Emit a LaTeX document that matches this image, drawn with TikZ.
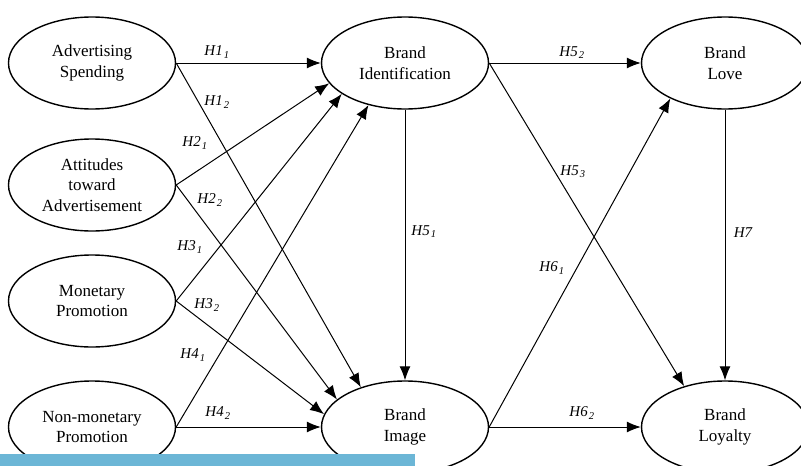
\documentclass[tikz,border=0pt]{standalone}
\usepackage{fontspec}
\setmainfont{Liberation Serif}
\usetikzlibrary{shapes,arrows.meta,positioning}
\definecolor{barblue}{RGB}{108,182,214}
\tikzstyle{construct}=[ellipse, draw=black, line width=1.4pt, minimum width=167pt, minimum height=92pt, inner sep=0pt, align=center, font=\fontsize{17}{20.5}\selectfont]
\tikzstyle{hyp}=[inner sep=1pt, font=\fontsize{15}{15}\selectfont\itshape]
\tikzstyle{link}=[-{Latex[length=14pt,width=11pt]}, line width=1pt]
\newcommand{\hlab}[2]{#1\kern1pt\textsubscript{#2}}

\begin{document}
\begin{tikzpicture}[x=1pt, y=-1pt]
        \useasboundingbox (0,0) rectangle (801,466);
        %
        \node at (92,63) [construct] (AS) {Advertising\\Spending};
        \node at (92,185) [construct] (AT) {Attitudes\\toward\\Advertisement};
        \node at (92,301) [construct] (MP) {Monetary\\Promotion};
        \node at (92,427) [construct] (NP) {Non-monetary\\Promotion};
        \node at (405,63) [construct] (BI) {Brand\\Identification};
        \node at (405,427) [construct] (BM) {Brand\\Image};
        \node at (725,63) [construct] (BL) {Brand\\Love};
        \node at (725,427) [construct] (BY) {Brand\\Loyalty};
        %
        \draw [link] (AS.east) -- (BI.west);
        \draw [link] (AS.east) -- (BM.138);
        \draw [link] (AT.east) -- (BI.195);
        \draw [link] (AT.east) -- (BM.158);
        \draw [link] (MP.east) -- (BI.206);
        \draw [link] (MP.east) -- (BM.171);
        \draw [link] (NP.east) -- (BI.229);
        \draw [link] (NP.east) -- (BM.west);
        \draw [link] (BI.south) -- (BM.north);
        \draw [link] (BI.east) -- (BL.west);
        \draw [link] (BI.east) -- (BY.135);
        \draw [link] (BM.east) -- (BL.213);
        \draw [link] (BM.east) -- (BY.west);
        \draw [link] (BL.south) -- (BY.north);
        %
        \node at (217,52) [hyp] (h11) {\hlab{H1}{1}};
        \node at (217,102) [hyp] (h12) {\hlab{H1}{2}};
        \node at (195,143) [hyp] (h21) {\hlab{H2}{1}};
        \node at (210,200) [hyp] (h22) {\hlab{H2}{2}};
        \node at (190,247) [hyp] (h31) {\hlab{H3}{1}};
        \node at (207,305) [hyp] (h32) {\hlab{H3}{2}};
        \node at (193,355) [hyp] (h41) {\hlab{H4}{1}};
        \node at (218,413) [hyp] (h42) {\hlab{H4}{2}};
        \node at (424,232) [hyp] (h51) {\hlab{H5}{1}};
        \node at (572,53) [hyp] (h52) {\hlab{H5}{2}};
        \node at (573,172) [hyp] (h53) {\hlab{H5}{3}};
        \node at (552,268) [hyp] (h61) {\hlab{H6}{1}};
        \node at (582,413) [hyp] (h62) {\hlab{H6}{2}};
        \node at (743,233) [hyp] (h7) {H7};
        %
        \fill [barblue] (0,454) rectangle (415,466);
\end{tikzpicture}
\end{document}
